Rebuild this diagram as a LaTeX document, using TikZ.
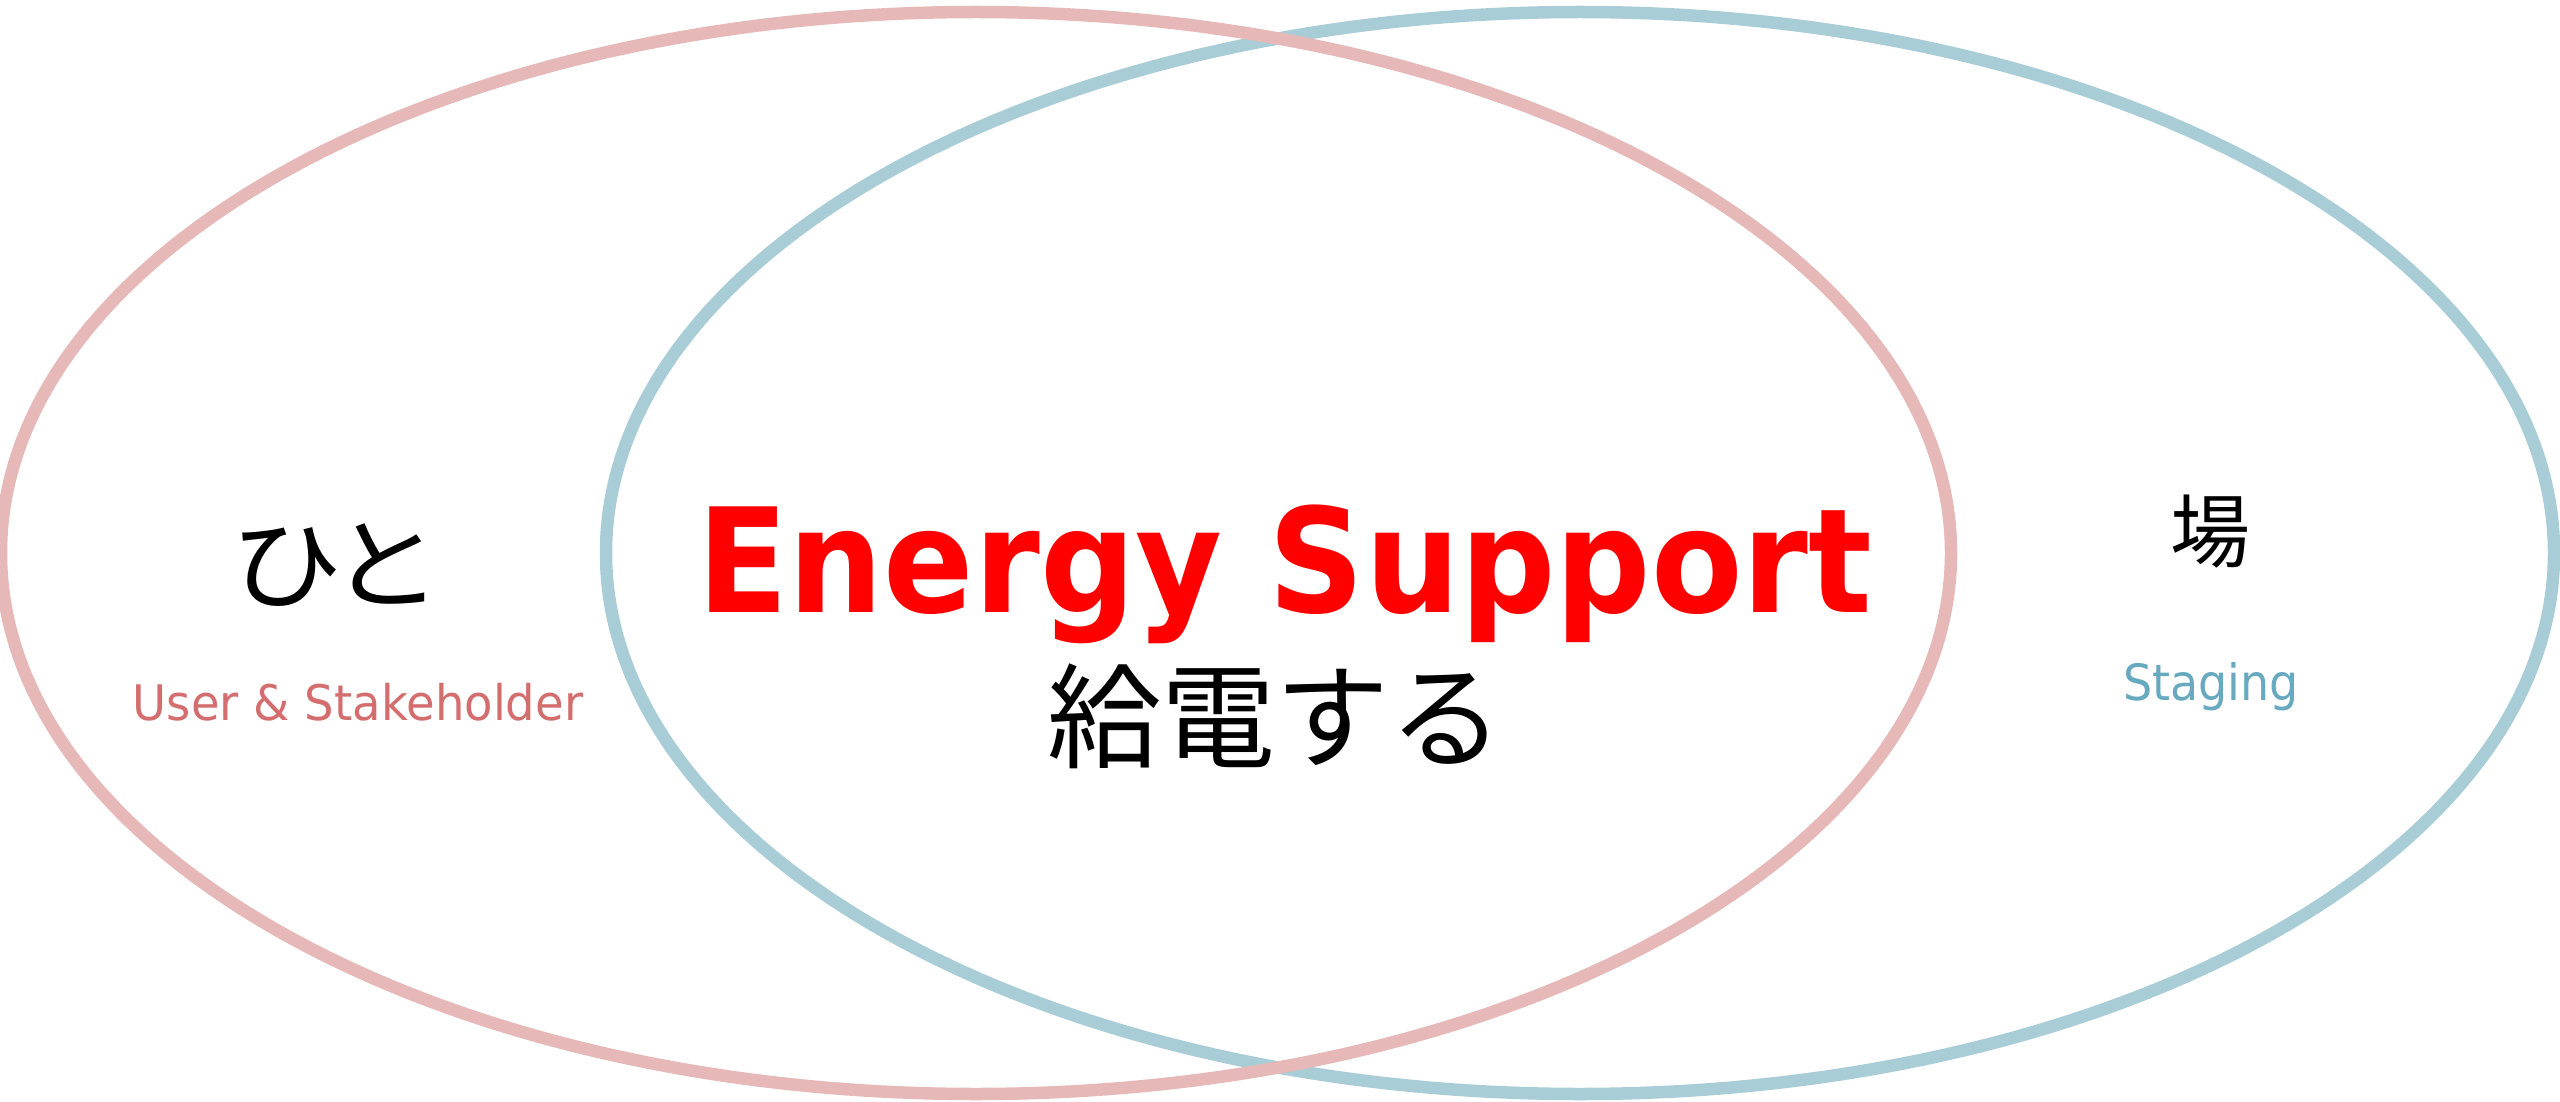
\documentclass[tikz,border=0pt]{standalone}
\usepackage{fontspec}
\usetikzlibrary{shapes.geometric}
\newfontfamily\jpfont{Noto Sans CJK JP}
\newfontfamily\jpwide[FakeStretch=1.12]{Noto Sans CJK JP}
\newfontfamily\titlefont[FakeStretch=0.92]{DejaVu Sans}
\newfontfamily\leftlab[FakeStretch=0.95]{DejaVu Sans}
\newfontfamily\rightlab[FakeStretch=0.92]{DejaVu Sans}
\definecolor{pinkring}{HTML}{E6B8B7}
\definecolor{bluering}{HTML}{A9CDD7}
\definecolor{pinktext}{HTML}{D46E6E}
\definecolor{bluetext}{HTML}{67A9BF}
\definecolor{titlered}{HTML}{FF0000}
\tikzset{
  ring/.style={ellipse, draw, line width=12.5pt, inner sep=0pt, outer sep=0pt},
  lbl/.style={inner sep=0pt, outer sep=0pt},
}
\begin{document}
\begin{tikzpicture}[x=1pt,y=-1pt]
\useasboundingbox (0,0) rectangle (2560,1102);
\node[ring, draw=bluering, minimum width=1948pt, minimum height=1082pt] (stage) at (1580,553) {};
\node[ring, draw=pinkring, minimum width=1950pt, minimum height=1082pt] (user) at (976,553) {};
\node[lbl, anchor=base, text=titlered] (title) at (1285,612) {\titlefont\bfseries\fontsize{145}{160}\selectfont Energy Support};
\node[lbl, anchor=center] (jtitle) at (1275,716) {\jpfont\fontsize{114}{130}\selectfont 給電する};
\node[lbl, anchor=center] (hito) at (336,565) {\jpwide\fontsize{100}{120}\selectfont ひ\kern-12ptと};
\node[lbl, anchor=base, text=pinktext] (userlab) at (358,720) {\leftlab\fontsize{49}{60}\selectfont User \& Stakeholder};
\node[lbl, anchor=center] (ba) at (2210,532) {\jpfont\fontsize{80}{96}\selectfont 場};
\node[lbl, anchor=base, text=bluetext] (staglab) at (2211,700) {\rightlab\fontsize{50}{60}\selectfont Staging};
\end{tikzpicture}
\end{document}
